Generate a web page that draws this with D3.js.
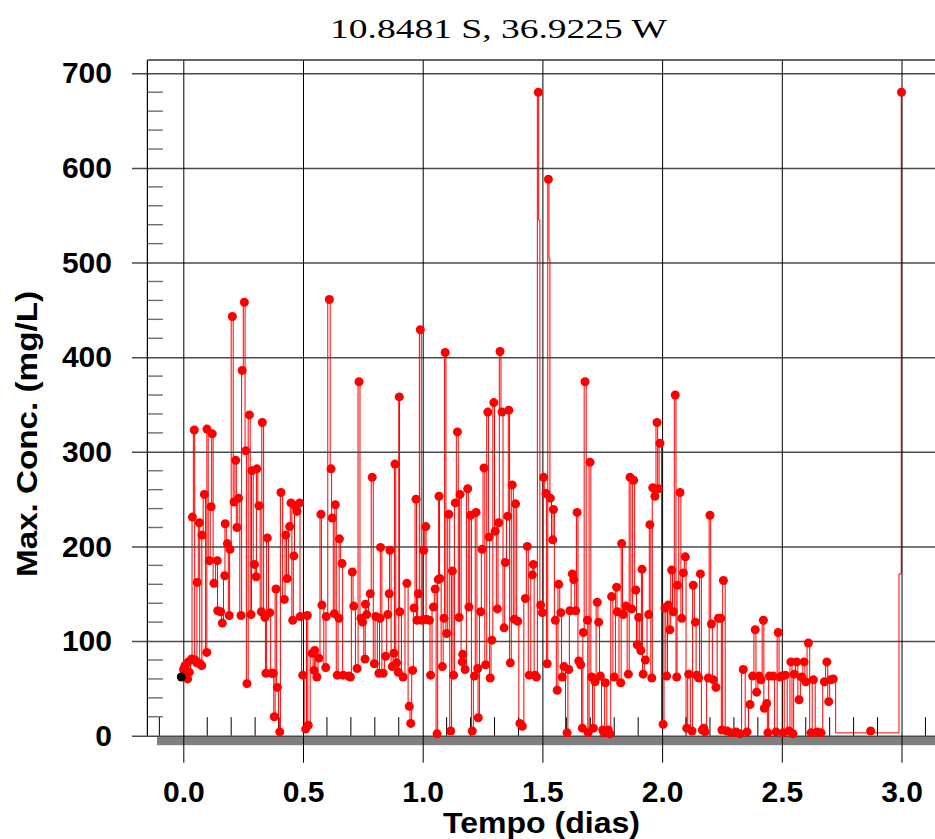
<!DOCTYPE html>
<html>
<head>
<meta charset="utf-8">
<script src="https://cdn.jsdelivr.net/npm/d3@7"></script>
<style>
  body { margin: 0; background: #ffffff; }
  svg { display: block; }
</style>
</head>
<body>
<svg id="chart" width="935" height="839"></svg>
<script>
// Texts
const titulo = "10.8481 S, 36.9225 W";
const rotuloX = "Tempo (dias)";
const rotuloY = "Max. Conc. (mg/L)";

// Axis ticks
const ticksX = [0, 0.5, 1, 1.5, 2, 2.5, 3];
const ticksY = [0, 100, 200, 300, 400, 500, 600, 700];
const rotulosX = ["0.0", "0.5", "1.0", "1.5", "2.0", "2.5", "3.0"];

// Initial condition (drawn in black)
const tempoInicial = [0];
const concInicial = [62];

// Sampled maxima (days, mg/L), drawn with markers
const tempo = [
  0.001,0.007,0.014,0.018,0.021,0.025,0.035,0.038,0.046,0.049,
  0.056,0.058,0.067,0.070,0.077,0.078,0.088,0.098,0.099,0.109,
  0.116,0.121,0.128,0.142,0.144,0.156,0.163,0.173,0.175,0.184,
  0.192,0.195,0.205,0.212,0.219,0.224,0.231,0.241,0.246,0.255,
  0.261,0.266,0.276,0.283,0.287,0.297,0.304,0.307,0.316,0.326,
  0.330,0.341,0.345,0.351,0.361,0.369,0.376,0.380,0.387,0.393,
  0.403,0.408,0.422,0.428,0.434,0.444,0.450,0.457,0.462,0.467,
  0.475,0.486,0.489,0.499,0.511,0.518,0.522,0.538,0.546,0.549,
  0.558,0.567,0.575,0.579,0.595,0.597,0.610,0.617,0.622,0.631,
  0.635,0.643,0.650,0.652,0.663,0.668,0.691,0.698,0.706,0.712,
  0.726,0.734,0.742,0.749,0.759,0.761,0.766,0.781,0.789,0.798,
  0.804,0.817,0.822,0.824,0.835,0.845,0.854,0.860,0.863,0.873,
  0.880,0.884,0.891,0.898,0.902,0.904,0.918,0.934,0.944,0.950,
  0.958,0.964,0.972,0.976,0.982,0.990,0.998,1.004,1.013,1.015,
  1.028,1.033,1.045,1.052,1.060,1.065,1.068,1.072,1.082,1.089,
  1.094,1.100,1.109,1.117,1.124,1.129,1.136,1.145,1.152,1.156,
  1.165,1.167,1.177,1.188,1.193,1.200,1.207,1.216,1.223,1.230,
  1.232,1.242,1.248,1.256,1.263,1.272,1.277,1.282,1.289,1.297,
  1.303,1.312,1.317,1.323,1.331,1.340,1.345,1.355,1.360,1.366,
  1.374,1.383,1.388,1.397,1.406,1.416,1.429,1.437,1.445,1.458,
  1.462,1.469,1.475,1.483,1.493,1.500,1.505,1.515,1.520,1.525,
  1.533,1.543,1.546,1.554,1.562,1.568,1.577,1.583,1.590,1.603,
  1.610,1.615,1.625,1.631,1.639,1.645,1.652,1.660,1.667,1.671,
  1.678,1.688,1.691,1.699,1.706,1.713,1.720,1.729,1.735,1.742,
  1.752,1.757,1.763,1.775,1.782,1.789,1.800,1.810,1.813,1.827,
  1.831,1.838,1.849,1.859,1.866,1.873,1.881,1.890,1.896,1.902,
  1.911,1.916,1.921,1.930,1.944,1.949,1.957,1.961,1.970,1.979,
  1.984,1.991,2.004,2.012,2.019,2.026,2.032,2.040,2.047,2.055,
  2.061,2.064,2.075,2.082,2.089,2.097,2.103,2.111,2.125,2.130,
  2.139,2.145,2.153,2.160,2.168,2.174,2.179,2.193,2.200,2.206,
  2.214,2.225,2.235,2.245,2.250,2.256,2.271,2.288,2.309,2.325,
  2.339,2.355,2.367,2.378,2.389,2.395,2.405,2.413,2.423,2.427,
  2.437,2.442,2.448,2.464,2.476,2.485,2.492,2.500,2.505,2.515,
  2.530,2.538,2.547,2.552,2.562,2.572,2.583,2.593,2.600,2.611,
  2.622,2.632,2.647,2.664,2.678,2.688,2.696,2.704,2.715,2.871,
  3.000
];
const conc = [
  70,74,63,60,78,67,81,231,323,80,
  77,162,225,76,74,212,255,88,324,185,
  242,319,161,185,132,131,119,169,224,203,
  127,197,443,247,291,220,251,127,386,458,
  301,55,339,128,280,181,168,282,243,131,
  331,125,66,209,130,66,66,20,155,51,
  4,257,144,212,166,221,246,122,190,243,
  237,246,126,64,7,127,11,87,69,90,
  62,82,234,138,72,126,461,282,230,129,
  244,64,124,208,182,64,63,62,173,137,
  71,374,124,120,81,139,128,150,273,76,
  126,66,124,199,66,84,128,150,196,73,
  87,287,77,67,358,131,62,161,31,13,
  69,135,250,122,150,429,122,196,221,123,
  122,64,136,155,2,165,253,166,73,124,
  405,108,234,5,174,64,246,321,125,255,
  78,86,70,261,136,233,5,63,236,71,
  19,131,197,283,75,342,210,61,101,352,
  216,134,225,406,342,114,183,232,344,77,
  265,123,245,121,13,10,145,200,64,170,
  181,64,62,680,138,130,273,256,76,588,
  251,207,239,122,48,160,130,62,73,3,
  70,132,171,165,132,236,79,75,8,109,
  374,122,3,289,62,8,57,141,120,63,
  6,3,56,6,2,147,62,157,131,56,
  203,128,137,65,273,134,270,154,96,125,
  90,176,65,80,128,223,61,262,253,331,
  261,309,12,135,63,138,112,175,131,360,
  62,159,257,124,172,189,8,65,5,159,
  120,64,61,171,6,8,4,61,233,118,
  59,51,124,124,6,164,5,3,4,2,
  70,4,33,63,112,46,63,59,122,29,
  34,3,63,63,4,109,62,63,3,64,
  5,78,2,65,78,38,62,78,57,98,
  3,59,4,3,57,78,36,59,60,5,
  680
];

// Intermediate line vertices without markers
const tempoLinha = [1.486, 1.530, 2.735, 2.777, 2.818, 2.852, 2.902, 2.944, 2.981, 2.998];
const concLinha  = [545, 504, 3, 3, 3, 3, 3, 3, 3, 171];

// ---------------------------------------------------------------
const svg = d3.select("#chart");
const fontSans = "'Liberation Sans', Arial, sans-serif";
const fontSerif = "'Liberation Serif', 'Times New Roman', serif";

const x = d3.scaleLinear().domain([0, 3]).range([183.3, 901.5]);
const y = d3.scaleLinear().domain([0, 700]).range([735.7, 73.3]);

const xEsq = x(-0.15);      // left frame
const xDir = x(3.25);       // frame runs past the right edge
const yTopo = y(714);       // top frame
const yBase = y(0);
const yFimGrade = yBase + 27;

const pontos = tempo.map((t, i) => ({ t, c: conc[i] }));
const inicio = tempoInicial.map((t, i) => ({ t, c: concInicial[i] }));
const extras = tempoLinha.map((t, i) => ({ t, c: concLinha[i] }));
const serie = inicio.concat(pontos, extras).sort((a, b) => a.t - b.t);

// Shaded floor below the zero line
svg.append("rect")
  .attr("x", x(-0.11)).attr("y", yBase + 0.5)
  .attr("width", xDir - x(-0.11)).attr("height", 9)
  .attr("fill", "#808080");

// Data line (stepped, so the excursions read as vertical strokes)
svg.append("path")
  .datum(serie)
  .attr("fill", "none")
  .attr("stroke", "#ff0000")
  .attr("stroke-width", 1)
  .attr("d", d3.line().curve(d3.curveStep).x(d => x(d.t)).y(d => y(d.c)));

// Y axis: labels and horizontal grid lines
const eixoY = d3.axisLeft(y)
  .tickValues(ticksY)
  .tickFormat(d3.format("d"))
  .tickSizeInner(-(xDir - 132))
  .tickSizeOuter(0)
  .tickPadding(20);
const gY = svg.append("g").attr("transform", "translate(132,0)").call(eixoY);
gY.select(".domain").remove();
gY.selectAll(".tick line").attr("stroke", "#4a4a4a").attr("stroke-width", 1.4);
gY.selectAll(".tick text")
  .attr("font-family", fontSans).attr("font-weight", "bold")
  .attr("font-size", 30).attr("fill", "#000");

// Minor y ticks every 20
const menoresY = d3.range(20, 701, 20).filter(v => v % 100 !== 0);
svg.append("g").selectAll("line").data(menoresY).join("line")
  .attr("x1", xEsq).attr("x2", xEsq + 15.5)
  .attr("y1", d => y(d)).attr("y2", d => y(d))
  .attr("stroke", "#6e6e6e").attr("stroke-width", 1.4);

// X axis: labels and vertical grid lines
const eixoX = d3.axisBottom(x)
  .tickValues(ticksX)
  .tickFormat((d, i) => rotulosX[i])
  .tickSizeInner(-(yFimGrade - yTopo))
  .tickSizeOuter(0)
  .tickPadding(17.7);
const gX = svg.append("g").attr("transform", `translate(0,${yFimGrade})`).call(eixoX);
gX.select(".domain").remove();
gX.selectAll(".tick line").attr("stroke", "#000").attr("stroke-width", 1);
gX.selectAll(".tick text")
  .attr("font-family", fontSans).attr("font-weight", "bold")
  .attr("font-size", 30).attr("fill", "#000");

// Minor x ticks every 0.1 day, from -0.1 to 3.1
const menoresX = d3.range(-1, 32).map(k => k / 10)
  .filter(v => Math.abs(v * 2 - Math.round(v * 2)) > 1e-9);
svg.append("g").selectAll("line").data(menoresX).join("line")
  .attr("x1", d => x(d)).attr("x2", d => x(d))
  .attr("y1", yBase).attr("y2", yBase - 18.5)
  .attr("stroke", "#000").attr("stroke-width", 1);

// Frame: left and top
svg.append("line")
  .attr("x1", xEsq).attr("x2", xEsq).attr("y1", yTopo).attr("y2", yBase)
  .attr("stroke", "#000").attr("stroke-width", 1.2);
svg.append("line")
  .attr("x1", xEsq).attr("x2", xDir).attr("y1", yTopo).attr("y2", yTopo)
  .attr("stroke", "#333").attr("stroke-width", 1.4);

// Markers
svg.append("g").selectAll("circle").data(pontos).join("circle")
  .attr("cx", d => x(d.t)).attr("cy", d => y(d.c))
  .attr("r", 4.5).attr("fill", "#ff0000");
svg.append("g").selectAll("circle").data(inicio).join("circle")
  .attr("cx", d => x(d.t) - 2).attr("cy", d => y(d.c))
  .attr("r", 4.5).attr("fill", "#000");

// Title
svg.append("text")
  .attr("x", 498.5).attr("y", 38)
  .attr("text-anchor", "middle")
  .attr("font-family", fontSerif).attr("font-size", 28)
  .attr("textLength", 337).attr("lengthAdjust", "spacingAndGlyphs")
  .text(titulo);

// Axis titles
svg.append("text")
  .attr("x", 541.5).attr("y", 833)
  .attr("text-anchor", "middle")
  .attr("font-family", fontSans).attr("font-weight", "bold").attr("font-size", 30)
  .attr("textLength", 197).attr("lengthAdjust", "spacingAndGlyphs")
  .text(rotuloX);

svg.append("text")
  .attr("transform", "translate(37,434) rotate(-90)")
  .attr("text-anchor", "middle")
  .attr("font-family", fontSans).attr("font-weight", "bold").attr("font-size", 30)
  .attr("textLength", 286).attr("lengthAdjust", "spacingAndGlyphs")
  .text(rotuloY);
</script>
</body>
</html>
